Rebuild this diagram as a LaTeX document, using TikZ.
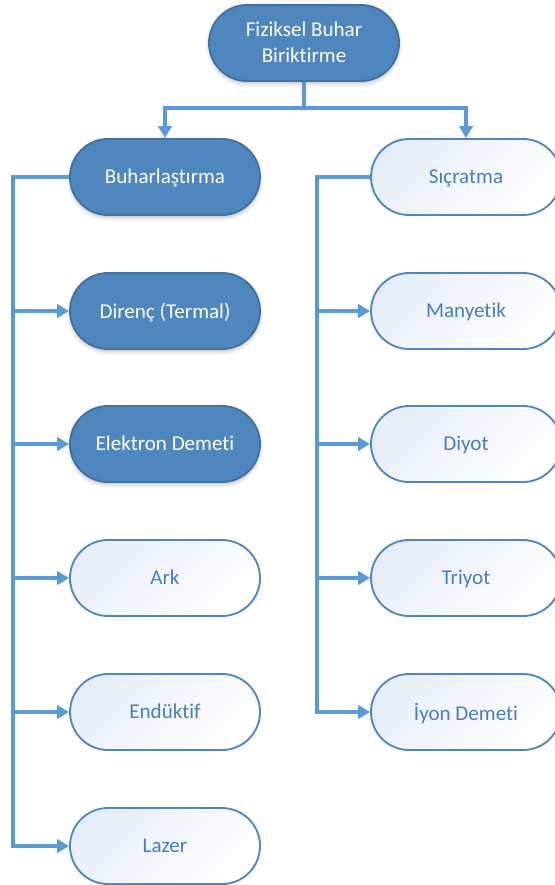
\documentclass[tikz,border=0pt]{standalone}
\usepackage{fontspec}
\setmainfont{Carlito}[Ligatures=NoCommon]
\usetikzlibrary{shapes.misc,arrows.meta,shadows.blur}
\definecolor{darkfill}{HTML}{4F86BE}
\definecolor{darkline}{HTML}{41719C}
\definecolor{lightline}{HTML}{4F86BE}
\definecolor{lighttext}{HTML}{4A7EBB}
\definecolor{conn}{HTML}{5B9BD5}
\definecolor{lightfill}{HTML}{E7EDF8}
\tikzset{
  pill/.style={rounded rectangle, minimum width=190*0.75pt, minimum height=76*0.75pt,
    inner sep=0pt, text depth=0.5pt, font=\fontsize{15.8}{19.5}\selectfont, align=center, line width=1.4pt},
  darkpill/.style={pill, fill=darkfill, draw=darkline, text=white,
    blur shadow={shadow xshift=0pt, shadow yshift=-2pt, shadow blur radius=3pt, shadow opacity=25}},
  lightpill/.style={pill, draw=lightline, text=lighttext,
    top color=lightfill, bottom color=white, shading angle=45},
  link/.style={draw=conn, line width=2.6pt},
  arr/.style={link, -{Triangle[length=9pt,width=10pt]}},
}
\begin{document}
\begin{tikzpicture}[x=0.75pt,y=-0.75pt]
\useasboundingbox (0,0) rectangle (555,885);
\node[darkpill] (top) at (304,43) {Fiziksel Buhar\\Biriktirme};
\node[darkpill] (buh) at (165,177) {Buharlaştırma};
\node[darkpill] (dir) at (165,311) {Direnç (Termal)};
\node[darkpill] (ele) at (165,444) {Elektron Demeti};
\node[lightpill] (ark) at (165,578) {Ark};
\node[lightpill] (end) at (165,712) {Endüktif};
\node[lightpill] (laz) at (165,846) {Lazer};
\node[lightpill] (sic) at (466,177) {Sıçratma};
\node[lightpill] (man) at (466,311) {Manyetik};
\node[lightpill] (diy) at (466,444) {Diyot};
\node[lightpill] (tri) at (466,578) {Triyot};
\node[lightpill] (iyo) at (466,712) {İyon Demeti};
\coordinate (mid) at (304,108);
\coordinate (tl) at (13,177);
\coordinate (tr) at (317,177);
\draw[link] (top.south) -- (mid);
\draw[arr] (mid) -| (buh.north);
\draw[arr] (mid) -| (sic.north);
\draw[arr] (buh.west) -- (tl) |- (laz.west);
\foreach \n in {dir,ele,ark,end}{\draw[arr] (tl |- \n.west) -- (\n.west);}
\draw[arr] (sic.west) -- (tr) |- (iyo.west);
\foreach \n in {man,diy,tri}{\draw[arr] (tr |- \n.west) -- (\n.west);}
\end{tikzpicture}
\end{document}
